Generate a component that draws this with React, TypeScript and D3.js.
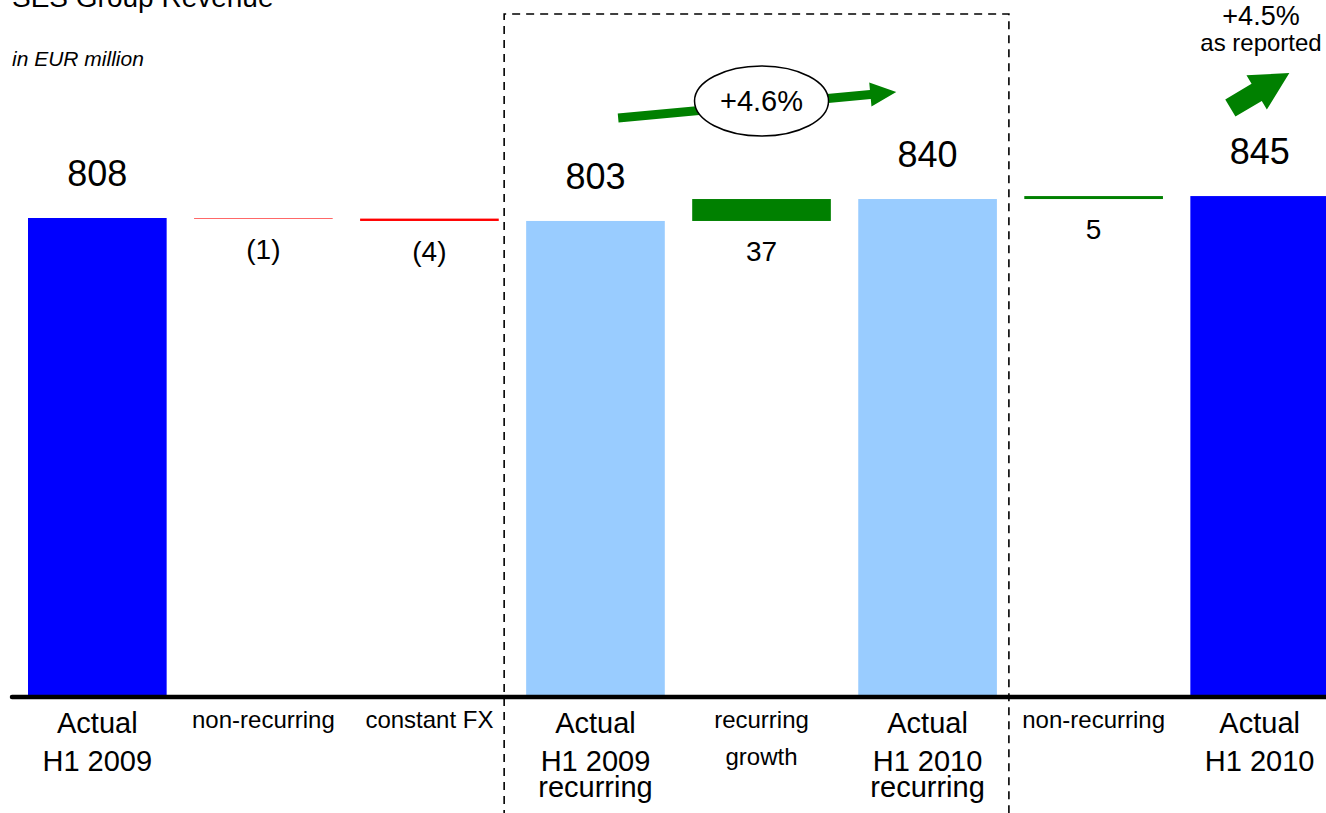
import React, { useEffect, useRef } from 'react';
import * as d3 from 'd3';

// waterfall steps
const catIds = ['a2009', 'nonrec1', 'fx', 'rec2009', 'growth', 'rec2010', 'nonrec2', 'a2010'];
const catLabels = [
    ['Actual', 'H1 2009'],
    ['non-recurring'],
    ['constant FX'],
    ['Actual', 'H1 2009', 'recurring'],
    ['recurring', 'growth'],
    ['Actual', 'H1 2010', 'recurring'],
    ['non-recurring'],
    ['Actual', 'H1 2010'],
];
const values = [808, -1, -4, 803, 37, 840, 5, 845];
const kinds = ['reported', 'delta', 'delta', 'recurring', 'delta', 'recurring', 'delta', 'reported'];
const valueLabels = ['808', '(1)', '(4)', '803', '37', '840', '5', '845'];

const title = 'SES Group Revenue';
const subtitle = 'in EUR million';
const recurringGrowth = '+4.6%';
const reportedGrowth = ['+4.5%', 'as reported'];

const FONT = "'Liberation Sans', Arial, sans-serif";
const colors: any = { reported: '#0000FF', recurring: '#99CCFF', up: '#008000', down: '#FF0000' };

export default function App() {
    const ref = useRef<SVGSVGElement>(null);

    useEffect(() => {
        const width = 1326, height = 813;
        const baseline = 697;
        const svg = d3.select(ref.current);
        svg.selectAll('*').remove();

        const x = d3.scaleBand().domain(catIds).range([28, 1329]).paddingInner(0.165).paddingOuter(0);
        const y = d3.scaleLinear().domain([0, 808]).range([baseline, 218]);
        const bw = x.bandwidth();

        // running totals
        let run = 0;
        const steps = values.map((v, i) => {
            let lo, hi;
            if (kinds[i] === 'delta') {
                lo = Math.min(run, run + v);
                hi = Math.max(run, run + v);
                run = run + v;
            } else {
                lo = 0;
                hi = v;
                run = v;
            }
            return { id: catIds[i], v, lo, hi, kind: kinds[i], label: valueLabels[i], cat: catLabels[i] };
        });

        // dashed box around the recurring part
        const boxL = (x('rec2009') as number) - 22;
        const boxR = (x('rec2010') as number) + bw + 12;
        svg.append('path')
            .attr('d', `M${boxL},${height + 5}V14H${boxR}V${height + 5}`)
            .attr('fill', 'none')
            .attr('stroke', '#000')
            .attr('stroke-width', 1.6)
            .attr('stroke-dasharray', '8,6');

        svg.selectAll('.bar').data(steps).enter().append('rect')
            .attr('class', 'bar')
            .attr('x', d => x(d.id) as number)
            .attr('y', d => y(d.hi))
            .attr('width', bw)
            .attr('height', d => Math.max(0, y(d.lo) - y(d.hi)))
            .attr('fill', d => d.kind === 'delta' ? (d.v < 0 ? colors.down : colors.up) : colors[d.kind]);

        // axis line
        svg.append('line')
            .attr('x1', 12).attr('x2', width)
            .attr('y1', baseline).attr('y2', baseline)
            .attr('stroke', '#000').attr('stroke-width', 4.5).attr('stroke-linecap', 'round');

        // value labels
        svg.selectAll('.val').data(steps).enter().append('text')
            .attr('class', 'val')
            .attr('x', d => (x(d.id) as number) + bw / 2)
            .attr('y', d => d.kind === 'delta' ? y(d.lo) + 40 : y(d.hi) - 32)
            .attr('text-anchor', 'middle')
            .attr('font-family', FONT)
            .attr('font-size', d => d.kind === 'delta' ? 28 : 36)
            .attr('fill', '#000')
            .text(d => d.label);

        // category labels
        const cats = svg.selectAll('.cat').data(steps).enter().append('text')
            .attr('class', 'cat')
            .attr('text-anchor', 'middle')
            .attr('font-family', FONT)
            .attr('font-size', d => d.kind === 'delta' ? 24 : 29)
            .attr('fill', '#000');
        cats.each(function (d) {
            const big = d.kind !== 'delta';
            const offs = big ? [733, 771, 797] : [728, 765];
            d3.select(this).selectAll('tspan').data(d.cat).enter().append('tspan')
                .attr('x', (x(d.id) as number) + bw / 2)
                .attr('y', (t, i) => offs[i])
                .text(t => t);
        });

        // title
        svg.append('text').attr('x', 12).attr('y', 7)
            .attr('font-family', FONT).attr('font-size', 28).text(title);
        svg.append('text').attr('x', 12).attr('y', 66)
            .attr('font-family', FONT).attr('font-size', 21).attr('font-style', 'italic').text(subtitle);

        // recurring growth arrow + ellipse
        const arrow = (len: number, sw: number, hw: number, hl: number) =>
            `M0,${-sw}L${len - hl},${-sw}L${len - hl},${-hw}L${len},0L${len - hl},${hw}L${len - hl},${sw}L0,${sw}Z`;

        const tail = [(x('rec2009') as number) + 92, y(845) - 78];
        const tip = [(x('rec2010') as number) + 38, y(845) - 104];
        const ang = Math.atan2(tip[1] - tail[1], tip[0] - tail[0]) * 180 / Math.PI;
        const len = Math.hypot(tip[0] - tail[0], tip[1] - tail[1]);
        svg.append('path')
            .attr('d', arrow(len, 4.5, 12, 26))
            .attr('transform', `translate(${tail[0]},${tail[1]}) rotate(${ang})`)
            .attr('fill', colors.up);

        const cx = (x('growth') as number) + bw / 2;
        svg.append('ellipse')
            .attr('cx', cx).attr('cy', 101).attr('rx', 67).attr('ry', 35)
            .attr('fill', '#fff').attr('stroke', '#000').attr('stroke-width', 1.5);
        svg.append('text').attr('x', cx).attr('y', 111)
            .attr('text-anchor', 'middle').attr('font-family', FONT).attr('font-size', 29)
            .text(recurringGrowth);

        // reported growth
        const rx = (x('a2010') as number);
        const t2 = [rx + 40, 108];
        const p2 = [rx + 99, 73];
        const ang2 = Math.atan2(p2[1] - t2[1], p2[0] - t2[0]) * 180 / Math.PI;
        const len2 = Math.hypot(p2[0] - t2[0], p2[1] - t2[1]);
        svg.append('path')
            .attr('d', arrow(len2, 10, 20, 38))
            .attr('transform', `translate(${t2[0]},${t2[1]}) rotate(${ang2})`)
            .attr('fill', colors.up);

        svg.append('text').attr('x', 1261).attr('y', 25)
            .attr('text-anchor', 'middle').attr('font-family', FONT).attr('font-size', 27)
            .text(reportedGrowth[0]);
        svg.append('text').attr('x', 1261).attr('y', 51)
            .attr('text-anchor', 'middle').attr('font-family', FONT).attr('font-size', 24)
            .text(reportedGrowth[1]);
    }, []);

    return (
        <svg ref={ref} width={1326} height={813}
             style={{ position: 'absolute', left: 0, top: 0, background: '#fff' }} />
    );
}
